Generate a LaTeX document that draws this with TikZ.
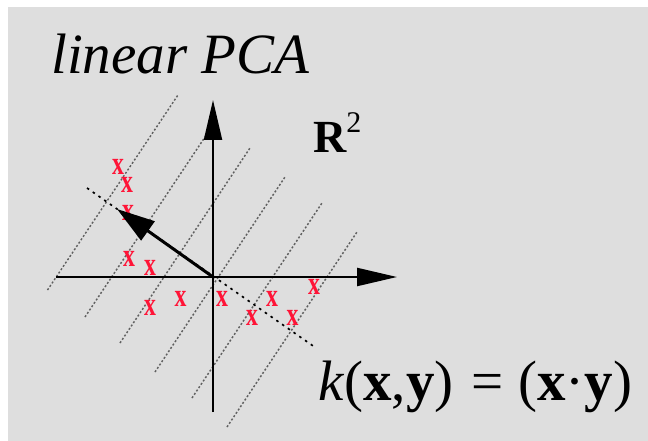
\documentclass[tikz,border=0pt]{standalone}
\usepackage{fontspec}
\setmainfont{Liberation Serif}
\usetikzlibrary{arrows.meta}
\definecolor{bg}{RGB}{222,222,222}
\definecolor{markred}{RGB}{255,20,55}
\definecolor{linegray}{RGB}{95,95,95}
\tikzset{
  axisarrow/.style={line width=2.2pt, -{Triangle[length=40pt,width=18pt]}},
  pcarrow/.style={line width=3pt, -{Triangle[length=38pt,width=23pt]}},
  pcline/.style={line width=1.7pt, dash pattern=on 2.5pt off 4.5pt},
  contour/.style={linegray, line width=1.4pt, dash pattern=on 2pt off 2pt},
  xmark/.style={text=markred, inner sep=0pt, font=\fontsize{33}{33}\selectfont\bfseries},
  lbl/.style={inner sep=0pt, anchor=base west}
}
\newcommand{\xm}{\scalebox{0.72}[1]{x}}
\begin{document}
\begin{tikzpicture}[x=1pt,y=-1pt]
  \useasboundingbox (0,0) rectangle (648,441);
  \fill[white] (0,0) rectangle (648,441);
  \fill[bg] (8,7) rectangle (648,441);

  % contour lines (perpendicular to principal axis)
  \coordinate (c1b) at (47.5,290); \coordinate (c1t) at (178,95);
  \coordinate (c2b) at (85,317);   \coordinate (c2t) at (215,122);
  \coordinate (c3b) at (120,343);  \coordinate (c3t) at (250,148);
  \coordinate (c4b) at (155,372);  \coordinate (c4t) at (285,177);
  \coordinate (c5b) at (192,398);  \coordinate (c5t) at (322,203);
  \coordinate (c6b) at (227,427);  \coordinate (c6t) at (357,232);
  \foreach \i in {1,...,6} { \draw[contour] (c\i b) -- (c\i t); }

  % principal axis (dotted)
  \coordinate (pa) at (87,188);
  \coordinate (pb) at (316,348);
  \draw[pcline] (pa) -- (pb);

  % data points
  \node[xmark] (m1)  at (118,166.5) {\xm};
  \node[xmark] (m2)  at (127,185) {\xm};
  \node[xmark] (m3)  at (128,213) {\xm};
  \node[xmark] (m4)  at (129,259) {\xm};
  \node[xmark] (m5)  at (150,268) {\xm};
  \node[xmark] (m6)  at (150,308) {\xm};
  \node[xmark] (m7)  at (180.5,299) {\xm};
  \node[xmark] (m8)  at (222,299) {\xm};
  \node[xmark] (m9)  at (272,299) {\xm};
  \node[xmark] (m10) at (252,318) {\xm};
  \node[xmark] (m11) at (292.5,318) {\xm};
  \node[xmark] (m12) at (314,287) {\xm};

  % axes
  \coordinate (O) at (213,277);
  \coordinate (xl) at (56,277);
  \coordinate (xr) at (397,277);
  \coordinate (yb) at (213,412);
  \coordinate (yt) at (213,100);
  \draw[axisarrow] (xl) -- (xr);
  \draw[axisarrow] (yb) -- (yt);

  % principal component arrow
  \coordinate (ptip) at (117,209);
  \draw[pcarrow] (O) -- (ptip);

  % labels
  \node[lbl] (title) at (51,74) {\fontsize{57}{57}\selectfont\itshape linear PCA};
  \node[lbl] (r2) at (313,153) {\fontsize{46}{46}\selectfont\bfseries R\raisebox{20pt}{\fontsize{30}{30}\selectfont\mdseries 2}};
  \node[lbl] (kern) at (318,400) {\fontsize{57}{57}\selectfont\textit{k}(\textbf{x},\textbf{y})\hspace{17.5pt}=\hspace{15pt}(\textbf{x}\textperiodcentered\textbf{y})};
\end{tikzpicture}
\end{document}
